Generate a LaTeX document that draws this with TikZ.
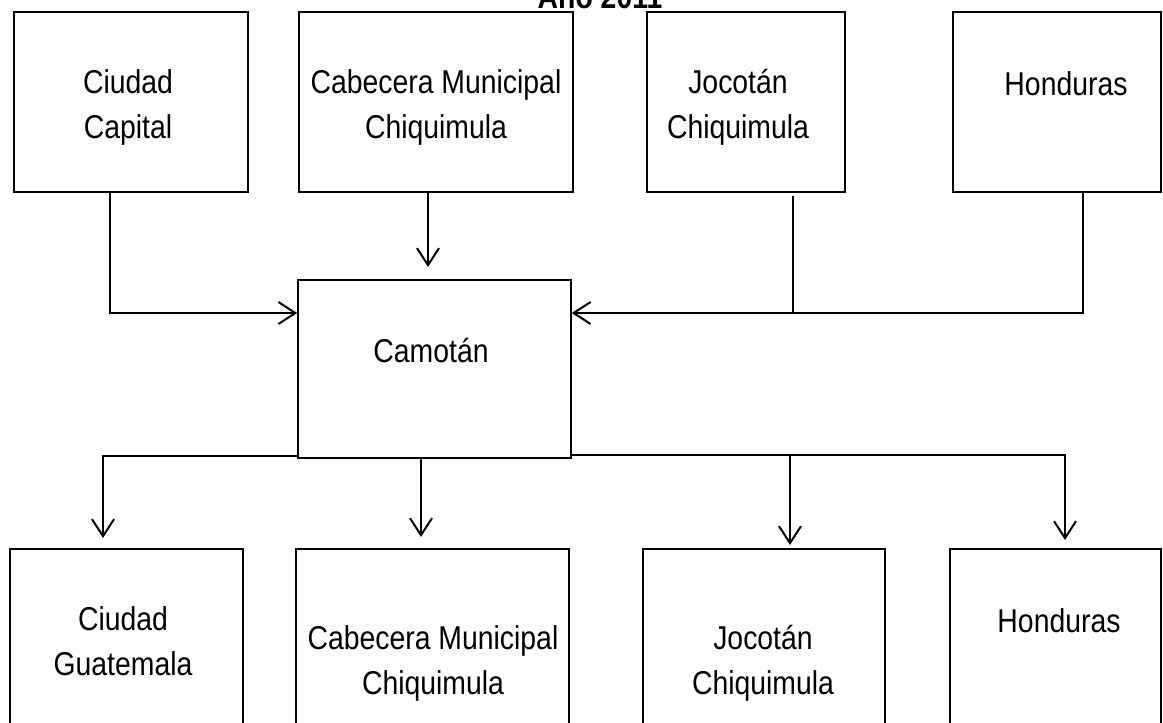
\documentclass[tikz,border=0pt]{standalone}
\usepackage{fontspec}
\setmainfont{Liberation Sans}[FakeStretch=0.86]
\usetikzlibrary{arrows.meta}
\begin{document}
\begin{tikzpicture}[x=1pt,y=-1pt,
  box/.style={draw=black,line width=1.5pt,rectangle,inner sep=0pt},
  lab/.style={anchor=base,inner sep=0pt,font=\fontsize{33}{40}\selectfont},
  conn/.style={draw=black,line width=2pt},
  arr/.style={conn,-{Straight Barb[length=17pt,width=22pt,line width=2pt]}}]
\useasboundingbox (0,0) rectangle (1163,723);
\clip (0,0) rectangle (1163,723);
\fill[white] (0,0) rectangle (1163,723);
% title (partly cut off at top)
\node[lab,font=\fontsize{33}{40}\selectfont\bfseries] (title) at (600,8) {Año 2011};
% top boxes
\node[box,minimum width=234pt,minimum height=180pt] (t1) at (131,102) {};
\node[box,minimum width=274pt,minimum height=180pt] (t2) at (436,102) {};
\node[box,minimum width=198pt,minimum height=180pt] (t3) at (746,102) {};
\node[box,minimum width=208pt,minimum height=180pt] (t4) at (1057,102) {};
% centre box
\node[box,minimum width=273pt,minimum height=178pt] (c) at (434.5,369) {};
% bottom boxes (run off the bottom edge)
\node[box,minimum width=233pt,minimum height=231pt] (b1) at (126.5,664.5) {};
\node[box,minimum width=273pt,minimum height=231pt] (b2) at (432.5,664.5) {};
\node[box,minimum width=242pt,minimum height=231pt] (b3) at (764,664.5) {};
\node[box,minimum width=211pt,minimum height=231pt] (b4) at (1055.5,664.5) {};
% texts
\node[lab] (t1a) at (128,93) {Ciudad};
\node[lab] (t1b) at (128,138) {Capital};
\node[lab] (t2a) at (436,93) {Cabecera Municipal};
\node[lab] (t2b) at (436,138) {Chiquimula};
\node[lab] (t3a) at (738,93) {Jocotán};
\node[lab] (t3b) at (738,138) {Chiquimula};
\node[lab] (t4a) at (1066,95) {Honduras};
\node[lab] (ca) at (431,362) {Camotán};
\node[lab] (b1a) at (123,630) {Ciudad};
\node[lab] (b1b) at (123,675) {Guatemala};
\node[lab] (b2a) at (433,649) {Cabecera Municipal};
\node[lab] (b2b) at (433,694) {Chiquimula};
\node[lab] (b3a) at (763,649) {Jocotán};
\node[lab] (b3b) at (763,694) {Chiquimula};
\node[lab] (b4a) at (1059,632) {Honduras};
% connectors into Camotán
\coordinate (k1) at (110,192);
\coordinate (k2) at (428,192);
\coordinate (k3) at (793,196);
\coordinate (k4) at (1083,191);
\coordinate (j3) at (793,313);
\draw[arr] (k1) |- ([yshift=56pt]c.west);
\draw[arr] (k2) -- (428,267);
\draw[conn] (k3) -- (j3);
\draw[arr] (k4) |- ([yshift=56pt]c.east);
% connectors out of Camotán
\coordinate (m1) at (103,538);
\coordinate (m2) at (421,537);
\coordinate (m3) at (790,545);
\coordinate (m4) at (1065,540);
\coordinate (s3) at (790,455);
\draw[arr] ([yshift=-87pt]c.west) -| (m1);
\draw[arr] (c.south -| m2) -- (m2);
\draw[arr] ([yshift=-86pt]c.east) -| (m4);
\draw[arr] (s3) -- (m3);
\end{tikzpicture}
\end{document}
